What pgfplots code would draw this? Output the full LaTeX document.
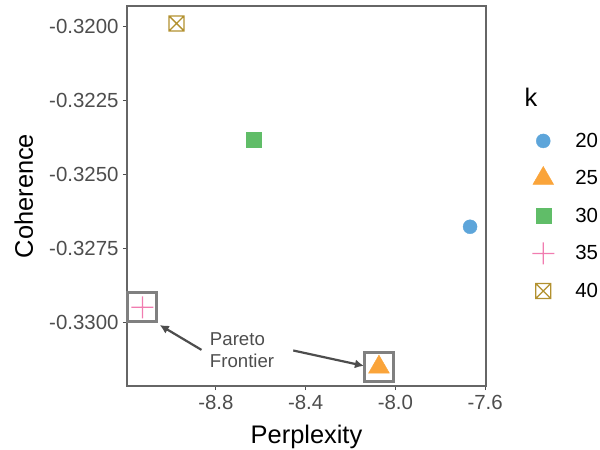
\documentclass[border=0pt]{standalone}
\usepackage{pgfplots}
\pgfplotsset{compat=1.18}
\usepackage{fontspec}
\setmainfont{Liberation Sans}
\usetikzlibrary{arrows.meta}

\definecolor{kblue}{HTML}{5DA5DA}
\definecolor{korange}{HTML}{FAA43A}
\definecolor{kgreen}{HTML}{60BD68}
\definecolor{kpink}{HTML}{F17CB0}
\definecolor{kgold}{HTML}{B2912F}
\definecolor{tickgrey}{HTML}{4D4D4D}
\definecolor{framegrey}{HTML}{666666}
\definecolor{boxgrey}{HTML}{808080}

% square with a cross inside (ggplot shape 7)
\pgfdeclareplotmark{boxx}{%
  \pgfpathrectangle{\pgfqpoint{-\pgfplotmarksize}{-\pgfplotmarksize}}{\pgfqpoint{2\pgfplotmarksize}{2\pgfplotmarksize}}%
  \pgfpathmoveto{\pgfqpoint{-\pgfplotmarksize}{-\pgfplotmarksize}}%
  \pgfpathlineto{\pgfqpoint{\pgfplotmarksize}{\pgfplotmarksize}}%
  \pgfpathmoveto{\pgfqpoint{-\pgfplotmarksize}{\pgfplotmarksize}}%
  \pgfpathlineto{\pgfqpoint{\pgfplotmarksize}{-\pgfplotmarksize}}%
  \pgfusepathqstroke}
% plus (ggplot shape 3), drawn as two filled bars
\pgfdeclareplotmark{pplus}{%
  \pgfpathrectangle{\pgfqpoint{-\pgfplotmarksize}{-0.65bp}}{\pgfqpoint{2\pgfplotmarksize}{1.3bp}}%
  \pgfpathrectangle{\pgfqpoint{-0.65bp}{-\pgfplotmarksize}}{\pgfqpoint{1.3bp}{2\pgfplotmarksize}}%
  \pgfusepathqfill}

\begin{document}
\begin{tikzpicture}
\useasboundingbox (-127bp,-64bp) rectangle (473bp,386bp);
\begin{axis}[
  scale only axis,
  width=359bp, height=380bp,
  xmin=-9.196, xmax=-7.596,
  ymin=-0.33214, ymax=-0.31930,
  xtick={-8.8,-8.4,-8.0,-7.6},
  xticklabels={-8.8,-8.4,-8.0,-7.6},
  ytick={-0.3300,-0.3275,-0.3250,-0.3225,-0.3200},
  yticklabels={-0.3300,-0.3275,-0.3250,-0.3225,-0.3200},
  scaled ticks=false,
  tick align=outside,
  xtick pos=left, ytick pos=left,
  major tick length=4bp,
  tick style={line width=1.1bp, color=tickgrey},
  axis line style={line width=1.1bp, color=framegrey},
  ticklabel style={font=\fontsize{20.5}{24}\selectfont, text=tickgrey},
  xticklabel style={yshift=-2bp},
  yticklabel style={xshift=-1bp},
  xlabel={Perplexity},
  ylabel={Coherence},
  label style={font=\fontsize{25.5}{30}\selectfont},
  xlabel style={at={(axis description cs:0.5,0)}, anchor=base, yshift=-57bp},
  ylabel style={at={(axis description cs:0,0.5)}, anchor=base, yshift=94bp},
  clip=false,
  legend style={draw=none, fill=none,
    at={(axis description cs:1.120,0.700)}, anchor=north west,
    font=\fontsize{20.5}{24}\selectfont,
    row sep=0pt, column sep=21bp,
    nodes={inner sep=0pt, text height=25bp, text depth=12.5bp}},
  legend cell align=left,
]
% Pareto frontier boxes
\addplot[only marks, mark=square, mark size=14.5bp, draw=boxgrey, line width=3bp, forget plot]
  coordinates {(-9.127,-0.32948) (-8.073,-0.33150)};

\addplot[only marks, mark=*, mark size=7bp, color=kblue, draw=kblue, fill=kblue]
  coordinates {(-7.667,-0.32676)};
\addlegendentry{20}
\addplot[only marks, mark=triangle*, mark size=12bp, color=korange, draw=korange, fill=korange]
  coordinates {(-8.073,-0.33150)};
\addlegendentry{25}
\addplot[only marks, mark=square*, mark size=7.5bp, color=kgreen, draw=kgreen, fill=kgreen]
  coordinates {(-8.630,-0.32381)};
\addlegendentry{30}
\addplot[only marks, mark=pplus, mark size=11bp, color=kpink, fill=kpink,
  mark options={fill=kpink}]
  coordinates {(-9.127,-0.32948)};
\addlegendentry{35}
\addplot[only marks, mark=boxx, mark size=7.5bp, color=kgold, line width=1.3bp]
  coordinates {(-8.975,-0.31989)};
\addlegendentry{40}

\node[anchor=west, font=\fontsize{25.5}{30}\selectfont] at (axis description cs:1.098,0.761) {k};

\node[anchor=west, align=left, text=tickgrey, font=\fontsize{18.7}{21.7}\selectfont, inner sep=0pt]
  at (axis cs:-8.827,-0.33092) {Pareto\\Frontier};
\draw[-{Latex[length=9bp,width=9bp]}, line width=2.2bp, tickgrey]
  (axis cs:-8.864,-0.33092) -- (axis cs:-9.050,-0.33008);
\draw[-{Latex[length=9bp,width=9bp]}, line width=2.2bp, tickgrey]
  (axis cs:-8.455,-0.33094) -- (axis cs:-8.140,-0.33146);
\end{axis}
\end{tikzpicture}
\end{document}
